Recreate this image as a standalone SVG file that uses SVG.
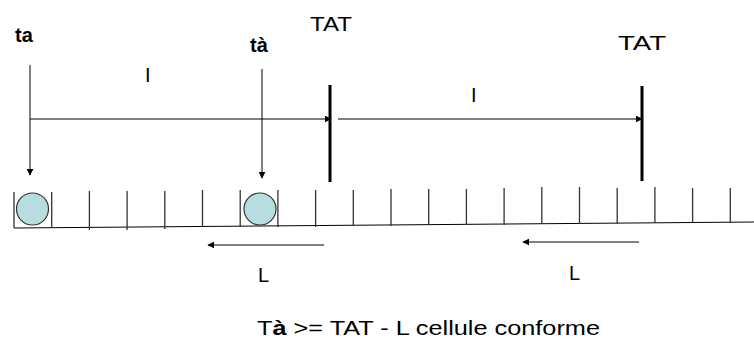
<svg xmlns="http://www.w3.org/2000/svg" width="754" height="344" viewBox="0 0 754 344">
<style>
text{font-family:"Liberation Sans",Arial,sans-serif;fill:#000}
.lbl{font-size:20px}
.b{font-weight:bold}
.ln{stroke:#000;stroke-width:1;fill:none}
.bar{stroke:#000;stroke-width:3}
.tick{stroke:#333;stroke-width:1.3}
.cell{fill:#b7dde0;stroke:#333;stroke-width:1.2}
</style>
<defs>
<marker id="ah" viewBox="0 0 10 10" refX="9" refY="5" markerWidth="7" markerHeight="7" markerUnits="userSpaceOnUse" orient="auto">
<path d="M0,0 L10,5 L0,10 z" fill="#000"/>
</marker>
</defs>
<rect width="754" height="344" fill="#fff"/>
<g id="track">
<path class="ln" d="M14,228 L754,222"/>
<path class="tick" d="M14,192V228 M51.7,192V228 M89.4,191V230 M127.1,191V230 M164.8,191V229 M202.5,190V227 M240.2,190V227 M277.9,190V227 M315.6,190V227 M353.3,190V226 M391,189V226 M428.7,189V225 M466.4,189V225 M504.1,188V225 M541.8,187V224 M579.5,187V224 M617.2,188V224 M654.9,187V223 M692.6,188V223 M730.3,188V223"/>
</g>
<g id="cell1"><circle class="cell" cx="32.5" cy="209" r="16"/></g>
<g id="cell2"><circle class="cell" cx="260" cy="209" r="16"/></g>
<g id="tat1"><line class="bar" x1="330" y1="85" x2="330" y2="182"/><text class="lbl" x="310" y="31" textLength="42" lengthAdjust="spacingAndGlyphs">TAT</text></g>
<g id="tat2"><line class="bar" x1="642" y1="86" x2="642" y2="181"/><text class="lbl" x="618" y="50" textLength="48" lengthAdjust="spacingAndGlyphs">TAT</text></g>
<g id="ta"><text class="lbl b" x="15" y="42">ta</text></g>
<g id="ta2"><text class="lbl b" x="250" y="52">tà</text></g>
<g id="labels">
<text class="lbl" x="145" y="82">I</text>
<text class="lbl" x="471" y="102">I</text>
<text class="lbl" x="258" y="282">L</text>
<text class="lbl" x="569" y="280">L</text>
<text class="lbl" x="257" y="335" textLength="343" lengthAdjust="spacingAndGlyphs">T<tspan class="b">à</tspan> &gt;= TAT - L cellule conforme</text>
</g>
<g id="connectors">
<line class="ln" x1="30" y1="65" x2="30" y2="175" marker-end="url(#ah)"/>
<line class="ln" x1="262" y1="69" x2="262" y2="178" marker-end="url(#ah)"/>
<line class="ln" x1="30" y1="119" x2="331" y2="119" marker-end="url(#ah)"/>
<line class="ln" x1="338" y1="119" x2="642" y2="119" marker-end="url(#ah)"/>
<line class="ln" x1="324" y1="245" x2="208" y2="245" marker-end="url(#ah)"/>
<line class="ln" x1="639" y1="242" x2="523" y2="242" marker-end="url(#ah)"/>
</g>
</svg>
